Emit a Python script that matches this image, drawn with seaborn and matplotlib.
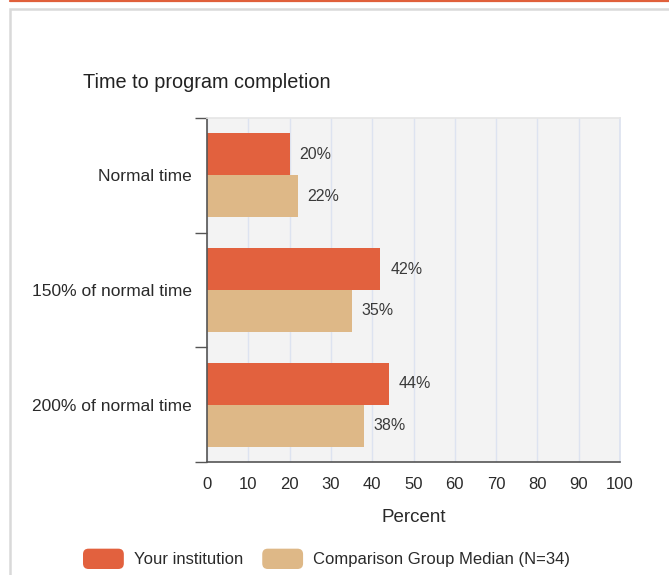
import matplotlib
matplotlib.use('Agg')
import matplotlib.pyplot as plt
import seaborn as sns
import pandas as pd
from matplotlib.patches import Patch, FancyBboxPatch, Rectangle
from matplotlib.legend_handler import HandlerPatch
from matplotlib.lines import Line2D

categories = ['Normal time', '150% of normal time', '200% of normal time']
series = ['Your institution', 'Comparison Group Median (N=34)']
your_institution = [20, 42, 44]
comparison_median = [22, 35, 38]
colors = ['#E2613E', '#DEB887']
x_ticks = [0, 10, 20, 30, 40, 50, 60, 70, 80, 90, 100]

df = pd.DataFrame({
    'category': categories * 2,
    'series': [series[0]] * 3 + [series[1]] * 3,
    'value': your_institution + comparison_median,
})

sns.set_theme(style='white')
plt.rcParams['font.family'] = ['Liberation Sans', 'DejaVu Sans']
text_col = '#2A2A2A'

W, H = 669, 575
fig = plt.figure(figsize=(W / 100, H / 100), dpi=100)

# page decoration: orange top rule and grey panel border
fig.add_artist(Line2D([10 / W, 1], [1 - 1 / H, 1 - 1 / H], color='#E0603B', lw=1.6))
fig.add_artist(Rectangle((10 / W, -0.1), 1.0, 1 - 9 / H + 0.1, fill=False,
                         edgecolor='#D9D9D9', lw=1.8))

ax = fig.add_axes([207 / W, 113 / H, 413 / W, 344 / H])
ax.set_facecolor('#F3F3F3')
sns.barplot(data=df, y='category', x='value', hue='series', orient='h',
            palette=colors, width=0.73, saturation=1, ax=ax, legend=False,
            edgecolor='none')

ax.set_xlim(0, 100)
ax.set_ylim(2.5, -0.5)
ax.set_xticks(x_ticks)
ax.set_xticklabels([str(t) for t in x_ticks])
ax.grid(axis='x', color='#DDE3F0', lw=1)
ax.set_axisbelow(True)
ax.tick_params(axis='x', length=0, pad=11, labelsize=12, labelcolor=text_col)
ax.tick_params(axis='y', length=0, pad=11, labelsize=12.5, labelcolor=text_col)
ax.set_yticks([-0.5, 0.5, 1.5, 2.5], minor=True)
ax.tick_params(axis='y', which='minor', length=9, width=1, color='#555555', left=True)
ax.set_ylabel('')
ax.set_xlabel('Percent', fontsize=13.5, color=text_col, labelpad=12)

for side in ['left', 'bottom']:
    ax.spines[side].set_color('#555555')
    ax.spines[side].set_linewidth(1.2)
ax.spines['top'].set_color('#E6E6E6')
ax.spines['right'].set_color('#DDE3F0')

for cont in ax.containers:
    ax.bar_label(cont, labels=[f'{v:.0f}%' for v in cont.datavalues],
                 padding=7, fontsize=11.5, color='#3A3A3A')

fig.text(83 / W, 1 - 82 / H, 'Time to program completion', fontsize=14.3,
         color='#222222', va='center', ha='left')


class RoundHandler(HandlerPatch):
    def create_artists(self, legend, orig_handle, xdescent, ydescent,
                       width, height, fontsize, trans):
        p = FancyBboxPatch((-xdescent, -ydescent), width, height,
                           boxstyle='round,pad=0,rounding_size=4',
                           facecolor=orig_handle.get_facecolor(),
                           edgecolor='none', transform=trans)
        return [p]


handles = [Patch(facecolor=c) for c in colors]
fig.legend(handles, series, loc='lower left', ncol=2, frameon=False,
           bbox_to_anchor=(83 / W, 6 / H), borderpad=0, borderaxespad=0,
           fontsize=12, handlelength=2.45, handleheight=1.5,
           handletextpad=0.6, columnspacing=1.15, labelcolor=text_col,
           handler_map={Patch: RoundHandler()})

fig.savefig('out.png', dpi=100)
